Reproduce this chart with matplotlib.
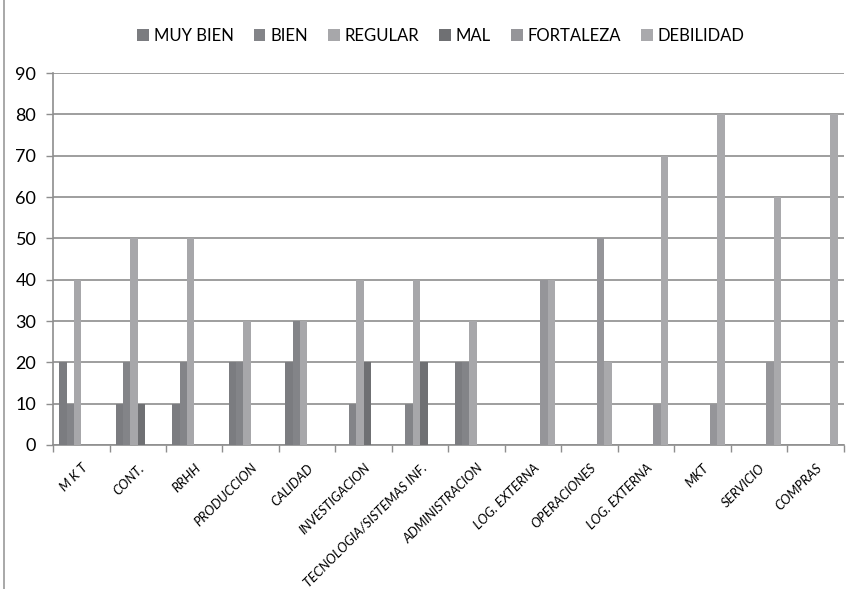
import numpy as np
import matplotlib
matplotlib.use("Agg")
import matplotlib.pyplot as plt
from matplotlib.lines import Line2D

plt.rcParams['font.family'] = ['Lato', 'DejaVu Sans']

# Datos
areas = ["M K T", "CONT.", "RRHH", "PRODUCCION", "CALIDAD", "INVESTIGACION",
         "TECNOLOGIA/SISTEMAS INF.", "ADMINISTRACION", "LOG. EXTERNA",
         "OPERACIONES", "LOG. EXTERNA", "MKT", "SERVICIO", "COMPRAS"]
series = ["MUY BIEN", "BIEN", "REGULAR", "MAL", "FORTALEZA", "DEBILIDAD"]
muy_bien  = [20, 10, 10, 20, 20, 0, 0, 20, 0, 0, 0, 0, 0, 0]
bien      = [10, 20, 20, 20, 30, 10, 10, 20, 0, 0, 0, 0, 0, 0]
regular   = [40, 50, 50, 30, 30, 40, 40, 30, 0, 0, 0, 0, 0, 0]
mal       = [0, 10, 0, 0, 0, 20, 20, 0, 0, 0, 0, 0, 0, 0]
fortaleza = [0, 0, 0, 0, 0, 0, 0, 0, 40, 50, 10, 10, 20, 0]
debilidad = [0, 0, 0, 0, 0, 0, 0, 0, 40, 20, 70, 80, 60, 80]
colores = ["#7b7c80", "#838488", "#a7a7aa", "#6f7073", "#959599", "#a9a9ac"]

valores = [muy_bien, bien, regular, mal, fortaleza, debilidad]

fig = plt.figure(figsize=(8.61, 5.89), dpi=100)
ax = fig.add_axes([0.0616, 0.2445, 0.9184, 0.6315])

x = np.arange(len(areas))
w = 0.13
for k, (nombre, vals) in enumerate(zip(series, valores)):
    ax.bar(x + (k - 2.5) * w, vals, width=w, color=colores[k], label=nombre,
           zorder=3, linewidth=0)

ax.set_xlim(-0.5, len(areas) - 0.5)
ax.set_ylim(0, 90)
ax.set_yticks(range(0, 91, 10))
ax.yaxis.grid(True, color="#8e8e8e", linewidth=1.2, zorder=0)
ax.tick_params(axis='y', labelsize=13, length=5, color="#8e8e8e", width=1, pad=7)

# ticks en los bordes de categoría, etiquetas en el centro
ax.set_xticks(np.arange(-0.5, len(areas)), minor=False)
ax.set_xticklabels([])
ax.set_xticks(x, minor=True)
ax.set_xticklabels(areas, minor=True, rotation=45, ha='right',
                   rotation_mode='anchor', fontsize=9.5, style='italic')
ax.tick_params(axis='x', which='major', length=5, color="#8e8e8e", width=1)
ax.tick_params(axis='x', which='minor', length=0, pad=12)

for s in ['top', 'right']:
    ax.spines[s].set_visible(False)
for s in ['left', 'bottom']:
    ax.spines[s].set_color("#8e8e8e")
    ax.spines[s].set_linewidth(1.2)

ax.legend(loc='upper center', bbox_to_anchor=(0.512, 0.978), bbox_transform=fig.transFigure,
          ncol=6, frameon=False, fontsize=12, handlelength=0.7, handleheight=0.7,
          handletextpad=0.3, columnspacing=1.2)

# borde izquierdo del área del gráfico
fig.add_artist(Line2D([4 / 861, 4 / 861], [0, 1], color="#9a9a9a", linewidth=1.2))

fig.savefig("out.png", dpi=100)
